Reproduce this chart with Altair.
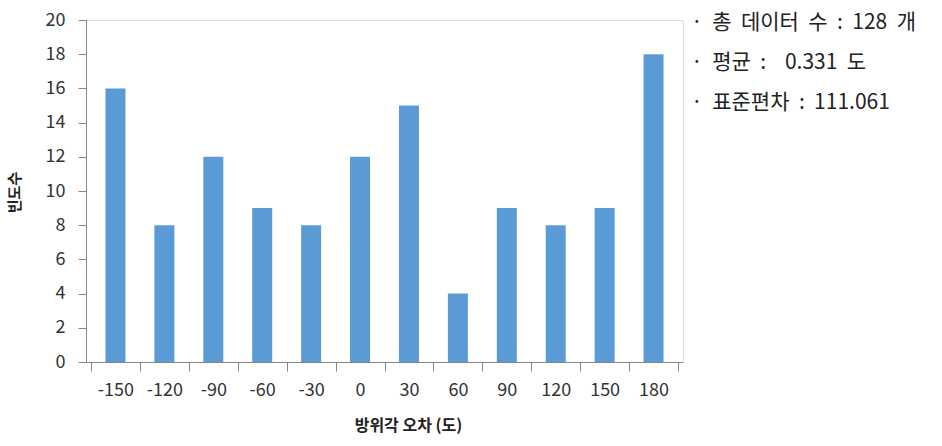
import altair as alt
import pandas as pd

NB = "\u00a0"
angles = [-150, -120, -90, -60, -30, 0, 30, 60, 90, 120, 150, 180]
counts = [16, 8, 12, 9, 8, 12, 15, 4, 9, 8, 9, 18]
bin_edges = [-165, -135, -105, -75, -45, -15, 15, 45, 75, 105, 135, 165, 195]
y_ticks = [0, 2, 4, 6, 8, 10, 12, 14, 16, 18, 20]
notes = ["· 총 데이터 수 : 128 개", "· 평균 :  0.331 도", "· 표준편차 : 111.061"]

df = pd.DataFrame({"angle": angles, "count": counts})
notes_df = pd.DataFrame({"text": ["\n".join(n.replace(" ", NB + NB) for n in notes)]})

FONT = "Noto Sans CJK KR"
W, H = 597, 342
is_edge = "abs(datum.value) % 30 != 0"

bars = alt.Chart(df).mark_bar(color="#5B9BD5", size=20).encode(
    x=alt.X(
        "angle:Q",
        scale=alt.Scale(domain=[bin_edges[0], bin_edges[-1]], nice=False, zero=False),
        axis=alt.Axis(
            title="방위각 오차 (도)",
            values=angles + bin_edges,
            labelExpr=f"{is_edge} ? '' : toString(datum.value)",
            labelAngle=0,
            labelFontSize=18,
            labelColor="#333333",
            labelFont=FONT,
            labelPadding=10,
            labelFlush=False,
            labelOverlap=False,
            grid=False,
            ticks=True,
            tickSize=9,
            tickWidth=1,
            tickColor="#868686",
            tickOpacity=alt.condition(is_edge, alt.value(1), alt.value(0)),
            domainColor="#868686",
            titleFont=FONT,
            titleFontSize=16,
            titleFontWeight="bold",
            titleColor="#222222",
            titleX=322,
            titleY=55,
        ),
    ),
    y=alt.Y(
        "count:Q",
        scale=alt.Scale(domain=[0, 20], nice=False),
        axis=alt.Axis(
            title="빈도수",
            values=y_ticks,
            grid=False,
            labelFontSize=18,
            labelColor="#333333",
            labelFont=FONT,
            labelPadding=13,
            tickSize=8,
            tickColor="#868686",
            domainColor="#868686",
            titleFont=FONT,
            titleFontSize=15,
            titleFontWeight="bold",
            titleColor="#222222",
            titleX=-64,
            titleY=172,
        ),
    ),
)

text = alt.Chart(notes_df).mark_text(
    align="left", baseline="middle", fontSize=21, font=FONT, color="#222222",
    lineBreak="\n", lineHeight=40,
).encode(
    x=alt.value(605),
    y=alt.value(3),
    text="text:N",
)

chart = alt.layer(bars, text).properties(
    width=W,
    height=H,
    autosize=alt.AutoSizeParams(type="none"),
    padding={"left": 86, "top": 20, "right": 259, "bottom": 84},
).configure_view(stroke="transparent", strokeWidth=0).configure_axis(grid=False).configure(background="white")

chart.save("out.html", embed_options={"renderer": "svg", "actions": False})
